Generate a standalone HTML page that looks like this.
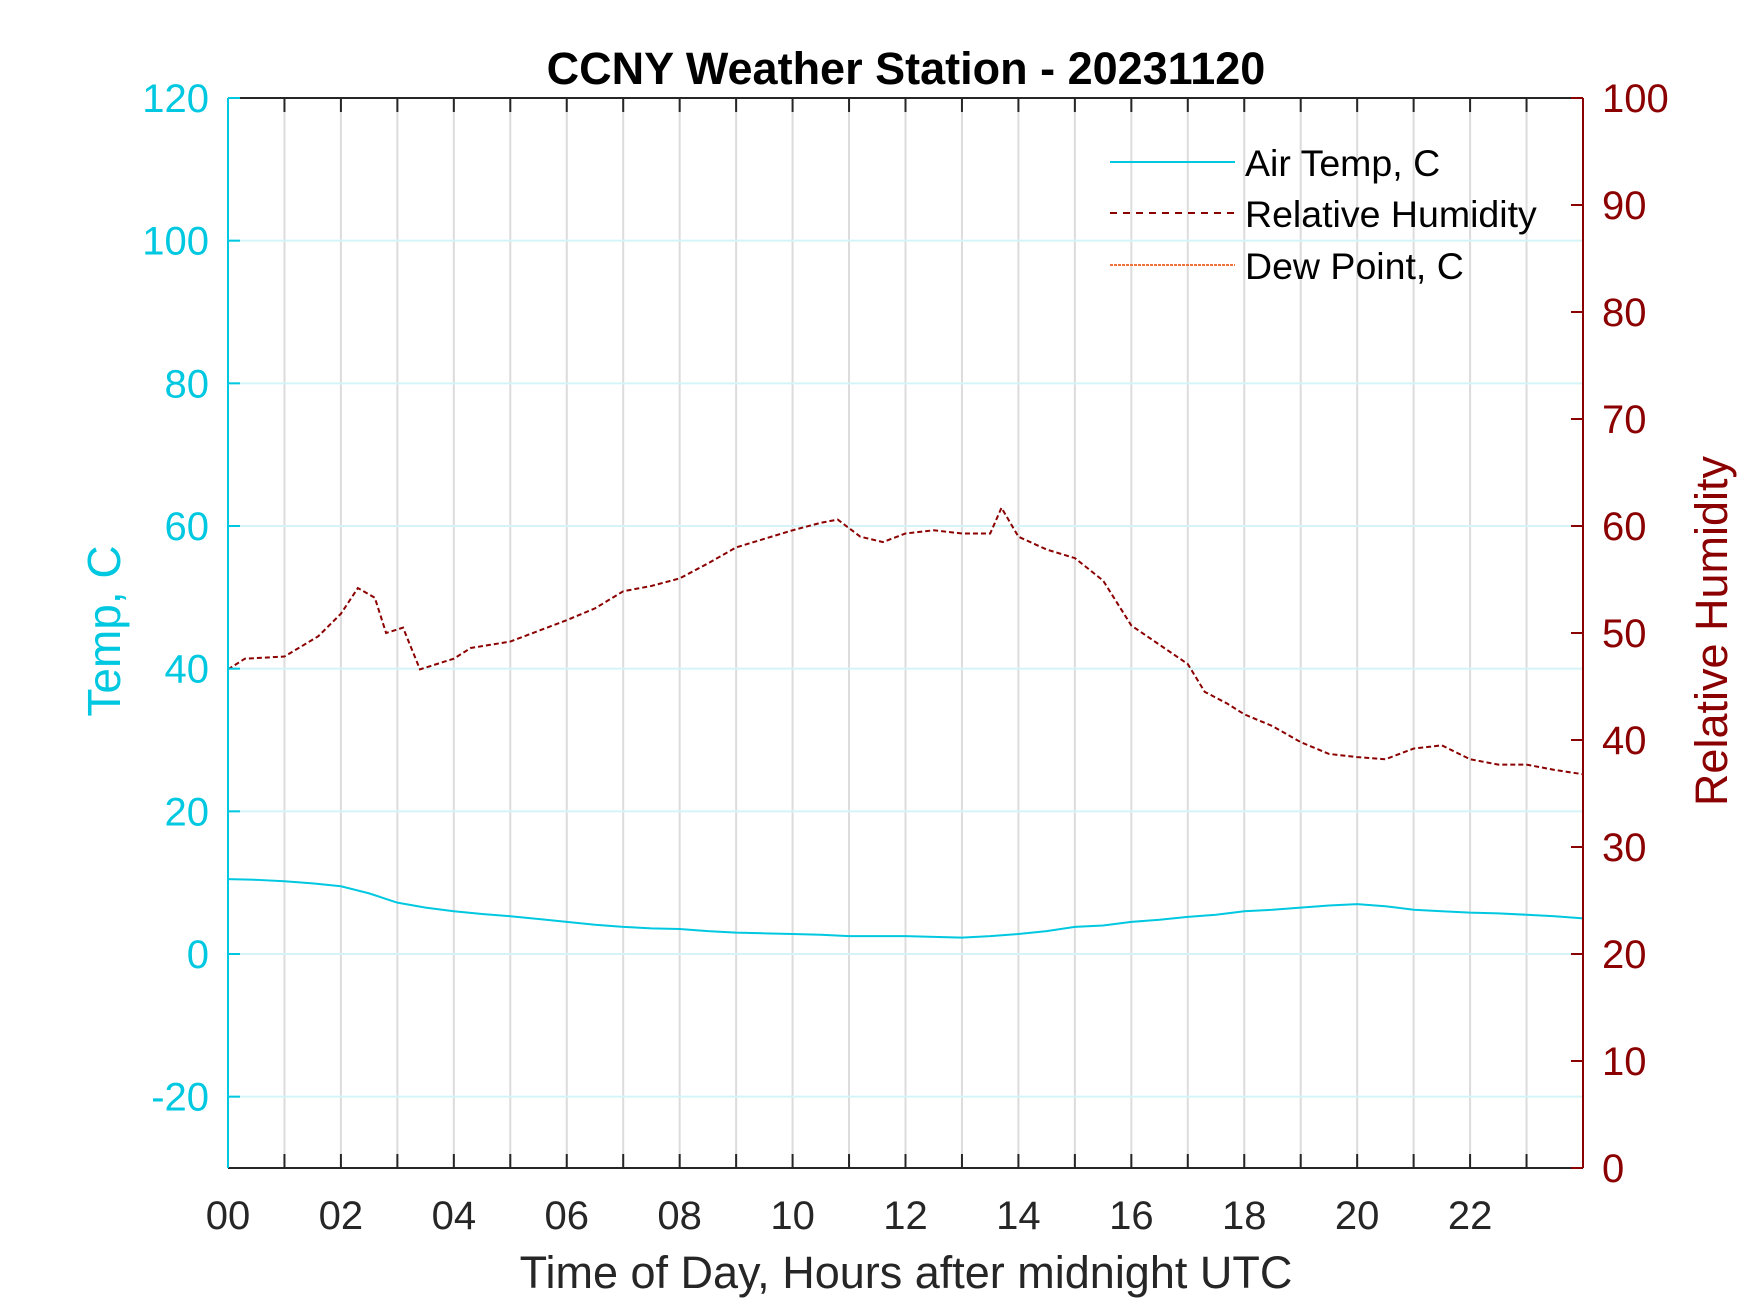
<!DOCTYPE html>
<html><head><meta charset="utf-8"><style>
html,body{margin:0;padding:0;background:#fff;}
svg{display:block;font-family:"Liberation Sans",Arial,sans-serif;}
</style></head><body>
<svg id="chart" width="1750" height="1313" viewBox="0 0 1750 1313" xmlns="http://www.w3.org/2000/svg">
<rect width="1750" height="1313" fill="#fff"/>
<g id="grid"></g>
<g id="series"></g>
<g id="axes"></g>
<text x="906" y="84" font-size="45" font-weight="bold" text-anchor="middle" fill="#000">CCNY Weather Station - 20231120</text>
<text transform="translate(120,631) rotate(-90)" font-size="46" text-anchor="middle" fill="#00c8e0">Temp, C</text>
<text transform="translate(1727,631) rotate(-90)" font-size="45" text-anchor="middle" fill="#8b0000">Relative Humidity</text>
<text x="906" y="1288" font-size="45" text-anchor="middle" fill="#262626">Time of Day, Hours after midnight UTC</text>
<g>
<line x1="1110" y1="162" x2="1235" y2="162" stroke="#00c8e0" stroke-width="2"/>
<text x="1245" y="176" font-size="37.5" fill="#000">Air Temp, C</text>
<line x1="1110" y1="213" x2="1235" y2="213" stroke="#8b0000" stroke-width="2" stroke-dasharray="7,6"/>
<text x="1245" y="227" font-size="37.5" fill="#000">Relative Humidity</text>
<line x1="1110" y1="265" x2="1235" y2="265" stroke="#f07040" stroke-width="2" stroke-dasharray="3,1"/>
<text x="1245" y="279" font-size="37.5" fill="#000">Dew Point, C</text>
</g>
</svg>
<script>
const hours = [0,0.5,1,1.5,2,2.5,3,3.5,4,4.5,5,5.5,6,6.5,7,7.5,8,8.5,9,9.5,10,10.5,11,11.5,12,12.5,13,13.5,14,14.5,15,15.5,16,16.5,17,17.5,18,18.5,19,19.5,20,20.5,21,21.5,22,22.5,23,23.5,24];
const tempValues = [10.5,10.4,10.2,9.9,9.5,8.5,7.2,6.5,6.0,5.6,5.3,4.9,4.5,4.1,3.8,3.6,3.5,3.2,3.0,2.9,2.8,2.7,2.5,2.5,2.5,2.4,2.3,2.5,2.8,3.2,3.8,4.0,4.5,4.8,5.2,5.5,6.0,6.2,6.5,6.8,7.0,6.7,6.2,6.0,5.8,5.7,5.5,5.3,5.0];
const rhHours = [0,0.3,1,1.6,2,2.3,2.6,2.8,3.1,3.4,4,4.3,5,5.5,6,6.5,7,7.5,8,8.5,9,9.5,10,10.5,10.8,11.2,11.6,12,12.5,13,13.5,13.7,14,14.5,15,15.5,16,16.5,17,17.3,17.7,18,18.5,19,19.5,20,20.5,21,21.5,22,22.5,23,23.5,24];
const rhValues = [46.6,47.6,47.8,49.7,51.8,54.2,53.3,50,50.5,46.6,47.6,48.6,49.2,50.2,51.2,52.3,53.9,54.4,55.1,56.5,58,58.8,59.6,60.3,60.6,59,58.5,59.3,59.6,59.3,59.3,61.7,59,57.8,57,54.9,50.7,48.9,47.1,44.5,43.4,42.4,41.3,39.8,38.7,38.4,38.2,39.2,39.5,38.2,37.7,37.7,37.2,36.8];
const tempTicks = [-20,0,20,40,60,80,100,120];
const rhTicks = [0,10,20,30,40,50,60,70,80,90,100];
const xTickLabels = ['00','02','04','06','08','10','12','14','16','18','20','22'];

const L=228,R=1583,T=98,B=1168;
const xs=h=>L+h*(R-L)/24;
const yT=v=>B-(v+30)*(B-T)/150;
const yH=v=>B-v*(B-T)/100;
const NS='http://www.w3.org/2000/svg';
function mk(tag,attrs,parent){const e=document.createElementNS(NS,tag);for(const k in attrs)e.setAttribute(k,attrs[k]);parent.appendChild(e);return e;}
const gridG=document.getElementById('grid'),seriesG=document.getElementById('series'),axesG=document.getElementById('axes');

for(let h=1;h<24;h++){
  const g=mk('line',{x1:xs(h),y1:T,x2:xs(h),y2:B,stroke:'#dcdcdc','stroke-width':2},gridG);
  
  
}
tempTicks.forEach(v=>{
  const g=mk('line',{x1:L,y1:yT(v),x2:R,y2:yT(v),stroke:'#d4f4f8','stroke-width':2},gridG);
  
  
});

const tp=mk('polyline',{points:hours.map((h,i)=>xs(h)+','+yT(tempValues[i])).join(' '),fill:'none',stroke:'#00c8e0','stroke-width':2},seriesG);


const rp=mk('polyline',{points:rhHours.map((h,i)=>xs(h)+','+yH(rhValues[i])).join(' '),fill:'none',stroke:'#8b0000','stroke-width':2,'stroke-dasharray':'5,3'},seriesG);



const topAx=mk('line',{x1:L,y1:T,x2:R,y2:T,stroke:'#262626','stroke-width':2},axesG);


const botAx=mk('line',{x1:L,y1:B,x2:R,y2:B,stroke:'#262626','stroke-width':2},axesG);


const leftAx=mk('line',{x1:L,y1:T,x2:L,y2:B,stroke:'#00c8e0','stroke-width':2},axesG);


const rightAx=mk('line',{x1:R,y1:T,x2:R,y2:B,stroke:'#8b0000','stroke-width':2},axesG);



for(let h=1;h<24;h++){
  const a=mk('line',{x1:xs(h),y1:B,x2:xs(h),y2:B-14,stroke:'#262626','stroke-width':2},axesG);
  
  
  const b=mk('line',{x1:xs(h),y1:T,x2:xs(h),y2:T+14,stroke:'#262626','stroke-width':2},axesG);
  
  
}
xTickLabels.forEach((s,i)=>{
  const t=mk('text',{x:xs(i*2),y:1229,'font-size':40,'text-anchor':'middle',fill:'#262626'},axesG);
  t.textContent=s;
  
  
});
tempTicks.forEach(v=>{
  const k=mk('line',{x1:L,y1:yT(v),x2:L+12,y2:yT(v),stroke:'#00c8e0','stroke-width':2},axesG);
  
  
  const t=mk('text',{x:209,y:yT(v)+14,'font-size':40,'text-anchor':'end',fill:'#00c8e0'},axesG);
  t.textContent=String(v);
  
  
});
rhTicks.forEach(v=>{
  const k=mk('line',{x1:R,y1:yH(v),x2:R-12,y2:yH(v),stroke:'#8b0000','stroke-width':2},axesG);
  
  
  const t=mk('text',{x:1602,y:yH(v)+14,'font-size':40,'text-anchor':'start',fill:'#8b0000'},axesG);
  t.textContent=String(v);
  
  
});
</script>
</body></html>
